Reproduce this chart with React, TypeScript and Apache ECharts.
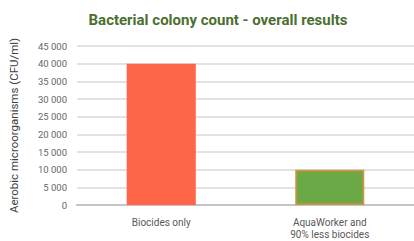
import React, { useEffect, useRef } from "react";
import * as echarts from "echarts";

const categories = ["Biocides only", "AquaWorker and\n90% less biocides"];
const values = [40000, 10000];
const barColors = ["#ff6549", "#6aa945"];
const yMax = 45000;
const yInterval = 5000;

export default function App() {
  const ref = useRef<HTMLDivElement>(null);
  useEffect(() => {
    if (!ref.current) return;
    const chart = echarts.init(ref.current, undefined, { renderer: "svg" });
    chart.setOption({
      animation: false,
      title: {
        text: "Bacterial colony count - overall results",
        left: 213,
        top: 7,
        textAlign: "center",
        textStyle: {
          fontFamily: "Roboto",
          fontWeight: "bold",
          fontSize: 15,
          color: "#4b6f31",
        },
      },
      grid: { left: 77, right: 0, top: 46, bottom: 36 },
      xAxis: {
        type: "category",
        data: categories,
        axisLine: { lineStyle: { color: "#c4c4c4", width: 2 } },
        axisTick: { show: false },
        axisLabel: {
          color: "#595959",
          fontFamily: "Roboto",
          fontSize: 10,
          lineHeight: 12,
          margin: 11,
        },
      },
      yAxis: {
        type: "value",
        min: 0,
        max: yMax,
        interval: yInterval,
        name: "Aerobic microorganisms (CFU/ml)",
        nameLocation: "middle",
        nameGap: 57,
        nameTextStyle: {
          color: "#404040",
          fontFamily: "Roboto",
          fontSize: 11.5,
        },
        axisLine: { show: false },
        axisTick: { show: false },
        splitLine: { lineStyle: { color: "#d9d9d9", width: 1.5 } },
        axisLabel: {
          color: "#666666",
          fontFamily: "Roboto",
          fontSize: 9.5,
          margin: 10,
          formatter: (v: number) =>
            v.toString().replace(/\B(?=(\d{3})+(?!\d))/g, " "),
        },
      },
      series: [
        {
          type: "bar",
          barWidth: "41%",
          data: values.map((v, i) => ({
            value: v,
            itemStyle:
              i === 0
                ? { color: barColors[0] }
                : {
                    color: barColors[1],
                    borderColor: "rgba(196,145,60,0.9)",
                    borderWidth: 2,
                  },
          })),
        },
      ],
    });
    return () => chart.dispose();
  }, []);
  return (
    <div
      ref={ref}
      style={{ position: "absolute", left: 0, top: 0, width: 414, height: 241 }}
    />
  );
}
